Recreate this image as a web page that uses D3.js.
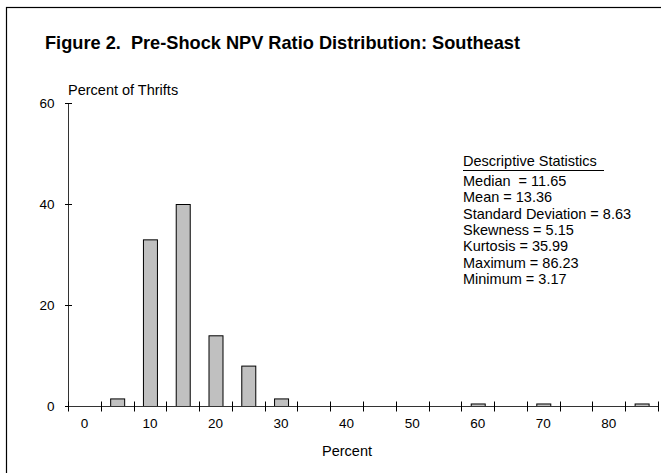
<!DOCTYPE html>
<html>
<head>
<meta charset="utf-8">
<script src="https://cdn.jsdelivr.net/npm/d3@7"></script>
<style>
  body { margin: 0; background: #fff; }
  text { font-family: "Liberation Sans", Arial, sans-serif; fill: #000; white-space: pre; }
</style>
</head>
<body>
<svg id="chart" width="661" height="473"></svg>
<script>
// histogram bins (lower edge of each 5-point bin) and percent of thrifts
var bins = [0, 5, 10, 15, 20, 25, 30, 35, 40, 45, 50, 55, 60, 65, 70, 75, 80, 85];
var pct  = [0, 1.5, 33, 40, 14, 8, 1.5, 0, 0, 0, 0, 0, 0.5, 0, 0.5, 0, 0, 0.5];
var yTicks = [0, 20, 40, 60];
var statsTitle = "Descriptive Statistics";
var statsLines = [
  "Median  = 11.65",
  "Mean = 13.36",
  "Standard Deviation = 8.63",
  "Skewness = 5.15",
  "Kurtosis = 35.99",
  "Maximum = 86.23",
  "Minimum = 3.17"
];

var svg = d3.select("#chart");

// outer frame (right/bottom edges run off the picture)
svg.append("rect")
  .attr("x", 6.5).attr("y", 7.5)
  .attr("width", 700).attr("height", 500)
  .attr("fill", "none").attr("stroke", "#000").attr("stroke-width", 1.2);

svg.append("text")
  .attr("x", 45).attr("y", 49)
  .attr("font-size", 18.2).attr("font-weight", "bold")
  .text("Figure 2.  Pre-Shock NPV Ratio Distribution: Southeast");

var x = d3.scaleBand().domain(bins).range([68, 658]).padding(0);
var y = d3.scaleLinear().domain([0, 60]).range([406, 103]);

// bars
var bw = 14;
svg.append("g").selectAll("rect")
  .data(bins.map((b, i) => ({ b: b, v: pct[i] })).filter(d => d.v > 0))
  .enter().append("rect")
  .attr("x", d => x(d.b) + x.bandwidth() / 2 - bw / 2 + 0.5)
  .attr("y", d => y(d.v) + 0.5)
  .attr("width", bw)
  .attr("height", d => y(0) - y(d.v))
  .attr("fill", "#c0c0c0")
  .attr("stroke", "#000")
  .attr("stroke-width", 1);

// y axis
var yAxis = svg.append("g").attr("transform", "translate(68.5,0)");
yAxis.append("line")
  .attr("y1", y(60)).attr("y2", y(0))
  .attr("stroke", "#333").attr("stroke-width", 1);
yAxis.selectAll(".yt").data(yTicks).enter().append("line")
  .attr("x1", -3.5).attr("x2", 3.5)
  .attr("y1", d => Math.round(y(d)) + 0.5).attr("y2", d => Math.round(y(d)) + 0.5)
  .attr("stroke", "#000");
yAxis.selectAll(".yl").data(yTicks).enter().append("text")
  .attr("x", -14).attr("y", d => y(d) + 5)
  .attr("text-anchor", "end").attr("font-size", 13.5)
  .text(d => d);

svg.append("text")
  .attr("x", 68).attr("y", 95)
  .attr("font-size", 14.5)
  .text("Percent of Thrifts");

// x axis: bin edges get cross ticks, labels every other bin
var xAxis = svg.append("g").attr("transform", "translate(0,406.5)");
xAxis.append("line")
  .attr("x1", 68).attr("x2", 658)
  .attr("stroke", "#333").attr("stroke-width", 1);
var edges = bins.map(b => x(b)).concat([x(bins[bins.length - 1]) + x.bandwidth()]);
xAxis.selectAll(".xt").data(edges).enter().append("line")
  .attr("x1", d => Math.round(d) + 0.5).attr("x2", d => Math.round(d) + 0.5)
  .attr("y1", -5).attr("y2", 5)
  .attr("stroke", "#000");
xAxis.selectAll(".xl").data(bins.filter(b => b % 10 === 0)).enter().append("text")
  .attr("x", d => x(d) + x.bandwidth() / 2)
  .attr("y", 21)
  .attr("text-anchor", "middle").attr("font-size", 13.5)
  .text(d => d);

svg.append("text")
  .attr("x", 347).attr("y", 456)
  .attr("text-anchor", "middle").attr("font-size", 14.5)
  .text("Percent");

// descriptive statistics block
var st = svg.append("g").attr("transform", "translate(463,0)");
st.append("text").attr("x", 0).attr("y", 166)
  .attr("font-size", 14.5)
  .text(statsTitle);
st.append("line").attr("x1", 0).attr("x2", 141)
  .attr("y1", 170.5).attr("y2", 170.5)
  .attr("stroke", "#000").attr("stroke-width", 1.2);
st.selectAll(".sl").data(statsLines).enter().append("text")
  .attr("x", 0).attr("y", (d, i) => 186 + i * 16.3)
  .attr("font-size", 14.5)
  .text(d => d);
</script>
</body>
</html>
